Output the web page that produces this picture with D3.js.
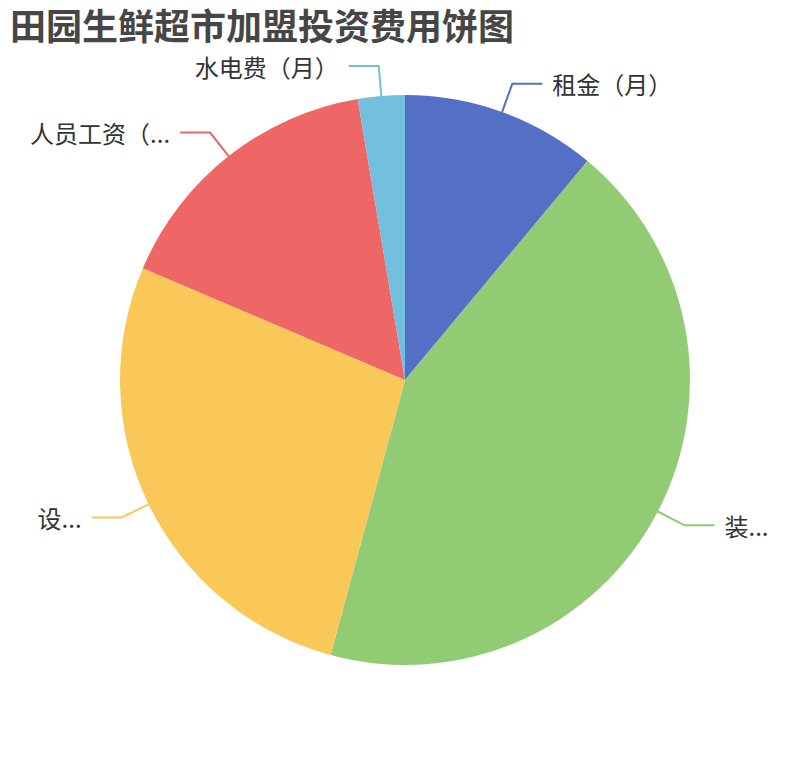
<!DOCTYPE html>
<html lang="zh">
<head>
<meta charset="UTF-8">
<script src="https://d3js.org/d3.v7.min.js"></script>
<style>
    body { margin: 0; background: #fff; }
    svg { display: block; font-family: "Noto Sans CJK SC", "Noto Sans", sans-serif; }
</style>
</head>
<body>
<div id="chart"></div>
<script>
    const title = "田园生鲜超市加盟投资费用饼图";
    const names = ["租金（月）", "装修费用", "设备费用", "人员工资（月）", "水电费（月）"];
    const values = [5000, 19500, 12300, 7200, 1200];
    const colors = ["#5470c6", "#91cc75", "#fac858", "#ee6666", "#73c0de"];

    const width = 810, height = 760;
    const cx = width / 2, cy = height / 2;
    const radius = Math.min(width, height) / 2 * 0.75;
    const len1 = 30, len2 = 30, gap = 10, bleed = 20;

    const data = names.map((n, i) => ({ name: n, value: values[i], color: colors[i] }));

    const svg = d3.select("#chart").append("svg")
        .attr("width", width)
        .attr("height", height);

    // 标题
    svg.append("text")
        .attr("x", 10)
        .attr("y", 40)
        .attr("font-size", 36)
        .attr("font-weight", "bold")
        .attr("fill", "#464646")
        .text(title);

    const pie = d3.pie().sort(null).value(d => d.value);
    const arc = d3.arc().innerRadius(0).outerRadius(radius);
    const arcs = pie(data);

    const g = svg.append("g").attr("transform", `translate(${cx},${cy})`);

    g.selectAll("path")
        .data(arcs)
        .enter().append("path")
        .attr("d", arc)
        .attr("fill", d => d.data.color);

    // 测量文字宽度
    const measure = svg.append("text").attr("font-size", 24).attr("visibility", "hidden");
    function textWidth(s) {
        measure.text(s);
        return measure.node().getComputedTextLength();
    }
    function fit(s, avail) {
        if (textWidth(s) <= avail) return s;
        let t = s;
        while (t.length > 0 && textWidth(t + "...") > avail) t = t.slice(0, -1);
        return t + "...";
    }

    arcs.forEach(d => {
        const a = (d.startAngle + d.endAngle) / 2;
        const sx = Math.sin(a), sy = -Math.cos(a);
        const p0 = [sx * radius, sy * radius];
        const p1 = [sx * (radius + len1), sy * (radius + len1)];
        const right = sx >= 0;
        const p2 = [p1[0] + (right ? len2 : -len2), p1[1]];

        g.append("polyline")
            .attr("points", [p0, p1, p2].map(p => p.join(",")).join(" "))
            .attr("fill", "none")
            .attr("stroke", d.data.color)
            .attr("stroke-width", 2);

        const tx = p2[0] + (right ? gap : -gap);
        const absX = cx + tx;
        const avail = right ? (width - absX - bleed) : (absX - bleed);

        g.append("text")
            .attr("x", tx)
            .attr("y", p2[1])
            .attr("font-size", 24)
            .attr("fill", "#333")
            .attr("dominant-baseline", "central")
            .attr("text-anchor", right ? "start" : "end")
            .text(fit(d.data.name, avail));
    });
    measure.remove();
</script>
</body>
</html>
